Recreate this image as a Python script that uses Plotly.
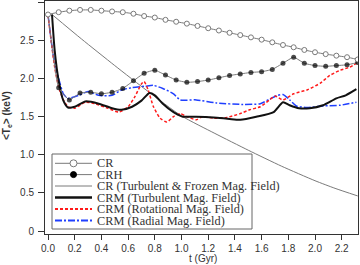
import plotly.graph_objects as go

# ---------------- data ----------------
t_mark = [0.00, 0.08, 0.16, 0.24, 0.32, 0.40, 0.48, 0.56, 0.64, 0.72,
          0.80, 0.88, 0.96, 1.04, 1.12, 1.20, 1.28, 1.36, 1.44, 1.52,
          1.60, 1.68, 1.76, 1.84, 1.92, 2.00, 2.08, 2.16, 2.24, 2.32]
cr = [2.84, 2.87, 2.89, 2.90, 2.90, 2.89, 2.88, 2.87, 2.85, 2.82,
      2.80, 2.77, 2.745, 2.72, 2.69, 2.66, 2.63, 2.60, 2.57, 2.54,
      2.51, 2.475, 2.44, 2.41, 2.375, 2.345, 2.32, 2.30, 2.28, 2.25]
crh = [2.84, 1.88, 1.72, 1.81, 1.82, 1.80, 1.82, 1.87, 1.97, 2.07,
       2.11, 2.045, 1.98, 1.95, 1.96, 1.98, 2.01, 2.04, 2.06, 2.08,
       2.09, 2.12, 2.20, 2.28, 2.20, 2.17, 2.16, 2.17, 2.18, 2.21]

t_frozen = [0.03, 0.25, 0.50, 0.75, 1.00, 1.25, 1.50, 1.75, 2.00, 2.15, 2.32]
cr_frozen = [2.84, 2.52, 2.17, 1.83, 1.51, 1.28, 1.06, 0.85, 0.66, 0.56, 0.46]

t_turb = [0.03, 0.05, 0.08, 0.115, 0.15, 0.20, 0.28, 0.38, 0.48, 0.55,
          0.63, 0.70, 0.76, 0.80, 0.86, 0.94, 1.01, 1.11, 1.24, 1.36,
          1.44, 1.56, 1.69, 1.76, 1.81, 1.88, 1.96, 2.06, 2.16, 2.23, 2.31]
crm_turb = [2.84, 2.37, 1.97, 1.71, 1.62, 1.63, 1.70, 1.67, 1.61, 1.59,
            1.63, 1.71, 1.81, 1.78, 1.67, 1.56, 1.50, 1.50, 1.49, 1.47,
            1.46, 1.50, 1.56, 1.69, 1.65, 1.61, 1.61, 1.65, 1.74, 1.78, 1.86]

t_rot = [0.00, 0.05, 0.08, 0.115, 0.15, 0.20, 0.28, 0.35, 0.45, 0.53,
         0.60, 0.65, 0.70, 0.72, 0.75, 0.79, 0.84, 0.89, 0.94, 0.99,
         1.04, 1.11, 1.16, 1.24, 1.34, 1.44, 1.51, 1.59, 1.66, 1.70,
         1.76, 1.84, 1.94, 2.04, 2.11, 2.19, 2.26, 2.32]
crm_rot = [2.83, 2.15, 1.89, 1.72, 1.63, 1.61, 1.69, 1.67, 1.61, 1.56,
           1.63, 1.76, 1.93, 1.96, 1.85, 1.63, 1.48, 1.43, 1.50, 1.54,
           1.50, 1.46, 1.50, 1.48, 1.49, 1.54, 1.59, 1.63, 1.72, 1.77,
           1.72, 1.80, 1.85, 1.94, 2.04, 2.11, 2.15, 2.21]

t_rad = [0.00, 0.04, 0.08, 0.115, 0.15, 0.23, 0.30, 0.38, 0.48, 0.55,
         0.63, 0.73, 0.79, 0.86, 0.94, 0.99, 1.11, 1.26, 1.46, 1.59,
         1.66, 1.72, 1.76, 1.81, 1.86, 1.94, 2.06, 2.19, 2.31]
crm_rad = [2.84, 2.30, 2.00, 1.80, 1.74, 1.78, 1.83, 1.78, 1.78, 1.85,
           1.88, 1.90, 1.91, 1.87, 1.80, 1.72, 1.72, 1.68, 1.66, 1.67,
           1.73, 1.78, 1.79, 1.72, 1.64, 1.62, 1.64, 1.65, 1.69]

legend_names = ["CR", "CRH", "CR (Turbulent & Frozen Mag. Field)",
                "CRM (Turbulent Mag. Field)", "CRM (Rotational Mag. Field)",
                "CRM (Radial Mag. Field)"]

x_ticks = [0.0, 0.2, 0.4, 0.6, 0.8, 1.0, 1.2, 1.4, 1.6, 1.8, 2.0, 2.2]
y_ticks = [0, 0.5, 1.0, 1.5, 2.0, 2.5, 3.0]
y_tick_text = ["0", "0.5", "1.0", "1.5", "2.0", "2.5", "3.0"]

# ---------------- styles ----------------
GRAY = "#7a7a7a"
RED = "#ff1a1a"
BLUE = "#1f3fff"
styles = [
    dict(color=GRAY, width=1, dash="solid", marker="open"),
    dict(color=GRAY, width=1, dash="solid", marker="filled"),
    dict(color=GRAY, width=1, dash="solid", marker=None),
    dict(color="#111111", width=2, dash="solid", marker=None),
    dict(color=RED, width=1.5, dash="3px,2px", marker=None),
    dict(color=BLUE, width=1.5, dash="7px,2px,2px,2px", marker=None),
]

fig = go.Figure()

fig.add_trace(go.Scatter(x=t_frozen, y=cr_frozen, mode="lines",
                         line=dict(color=GRAY, width=1, shape="spline", smoothing=0.6),
                         showlegend=False))
fig.add_trace(go.Scatter(x=t_rad, y=crm_rad, mode="lines",
                         line=dict(color=BLUE, width=1.5, dash=styles[5]["dash"],
                                   shape="spline", smoothing=0.6),
                         showlegend=False))
fig.add_trace(go.Scatter(x=t_rot, y=crm_rot, mode="lines",
                         line=dict(color=RED, width=1.5, dash=styles[4]["dash"],
                                   shape="spline", smoothing=0.6),
                         showlegend=False))
fig.add_trace(go.Scatter(x=t_turb, y=crm_turb, mode="lines",
                         line=dict(color="#111111", width=2, shape="spline", smoothing=0.6),
                         showlegend=False))
fig.add_trace(go.Scatter(x=t_mark, y=crh, mode="lines+markers",
                         line=dict(color=GRAY, width=1, shape="spline", smoothing=0.4),
                         marker=dict(symbol="circle", size=[0] + [5] * (len(crh) - 1),
                                     color="#000000", line=dict(width=0)),
                         showlegend=False))
fig.add_trace(go.Scatter(x=t_mark, y=cr, mode="lines+markers",
                         line=dict(color=GRAY, width=1, shape="spline", smoothing=0.4),
                         marker=dict(symbol="circle", size=5, color="white",
                                     line=dict(color=GRAY, width=1)),
                         showlegend=False))

# ---------------- geometry helpers (pixel -> paper) ----------------
L, R, T, B = 45, 2, 1, 31
W, H = 360, 265
PW, PH = W - L - R, H - T - B


def px(x):
    return (x - L) / PW


def py(y):
    return (H - B - y) / PH


shapes = []
annotations = []

# legend box
shapes.append(dict(type="rect", xref="paper", yref="paper",
                   x0=px(52), x1=px(252), y0=py(229), y1=py(154),
                   fillcolor="white", line=dict(color="#666666", width=1),
                   layer="above"))
row_y = [163.3, 174.6, 186.0, 197.5, 209.0, 220.5]
for name, st, ry in zip(legend_names, styles, row_y):
    shapes.append(dict(type="line", xref="paper", yref="paper",
                       x0=px(55), x1=px(92), y0=py(ry), y1=py(ry),
                       line=dict(color=st["color"], width=st["width"] + (0.5 if st["width"] > 1 else 0),
                                 dash=st["dash"]),
                       layer="above"))
    if st["marker"] is not None:
        fill = "white" if st["marker"] == "open" else "black"
        lc = GRAY if st["marker"] == "open" else "black"
        r = 3.5 if st["marker"] == "open" else 3
        shapes.append(dict(type="circle", xref="paper", yref="paper",
                           xsizemode="pixel", ysizemode="pixel",
                           xanchor=px(73.5), yanchor=py(ry),
                           x0=-r, x1=r, y0=-r, y1=r,
                           fillcolor=fill, line=dict(color=lc, width=1),
                           layer="above"))
    annotations.append(dict(x=px(96), y=py(ry), xref="paper", yref="paper",
                            text=name, showarrow=False, xanchor="left",
                            yanchor="middle", borderpad=0,
                            font=dict(family="Liberation Serif, Times New Roman, serif",
                                      size=12.3, color="#333333")))

# axis titles
annotations.append(dict(x=px(7), y=py(116), xref="paper", yref="paper",
                        text="<b>&lt;T<sub>e</sub>&gt; (keV)</b>", textangle=-90,
                        showarrow=False, xanchor="center", yanchor="middle",
                        font=dict(family="Liberation Sans, Arial, sans-serif",
                                  size=10, color="#333333")))
annotations.append(dict(x=px(203), y=py(258), xref="paper", yref="paper",
                        text="t (Gyr)", showarrow=False, xanchor="center",
                        yanchor="middle",
                        font=dict(family="Liberation Sans, Arial, sans-serif",
                                  size=10, color="#333333")))

axis_font = dict(family="Liberation Sans, Arial, sans-serif", size=10, color="#333333")

fig.update_layout(
    width=W, height=H,
    margin=dict(l=L, r=R, t=T, b=B, pad=0),
    paper_bgcolor="white", plot_bgcolor="white",
    showlegend=False,
    shapes=shapes, annotations=annotations,
    xaxis=dict(range=[-0.0225, 2.322], tickvals=x_ticks, tickformat=".1f",
               ticks="outside", ticklen=5, tickcolor="#333333", tickwidth=1,
               showline=True, linecolor="#333333", linewidth=1, mirror=True,
               showgrid=False, zeroline=False, tickfont=axis_font),
    yaxis=dict(range=[-0.039, 3.017], tickvals=y_ticks, ticktext=y_tick_text,
               ticks="outside", ticklen=6, tickcolor="#333333", tickwidth=1,
               showline=True, linecolor="#333333", linewidth=1, mirror=True,
               showgrid=False, zeroline=False, tickfont=axis_font,
               ticklabelstandoff=2),
)

fig.write_html("out.html", config={"displayModeBar": False},
               post_script="document.body.style.margin='0';document.body.style.padding='0';")
